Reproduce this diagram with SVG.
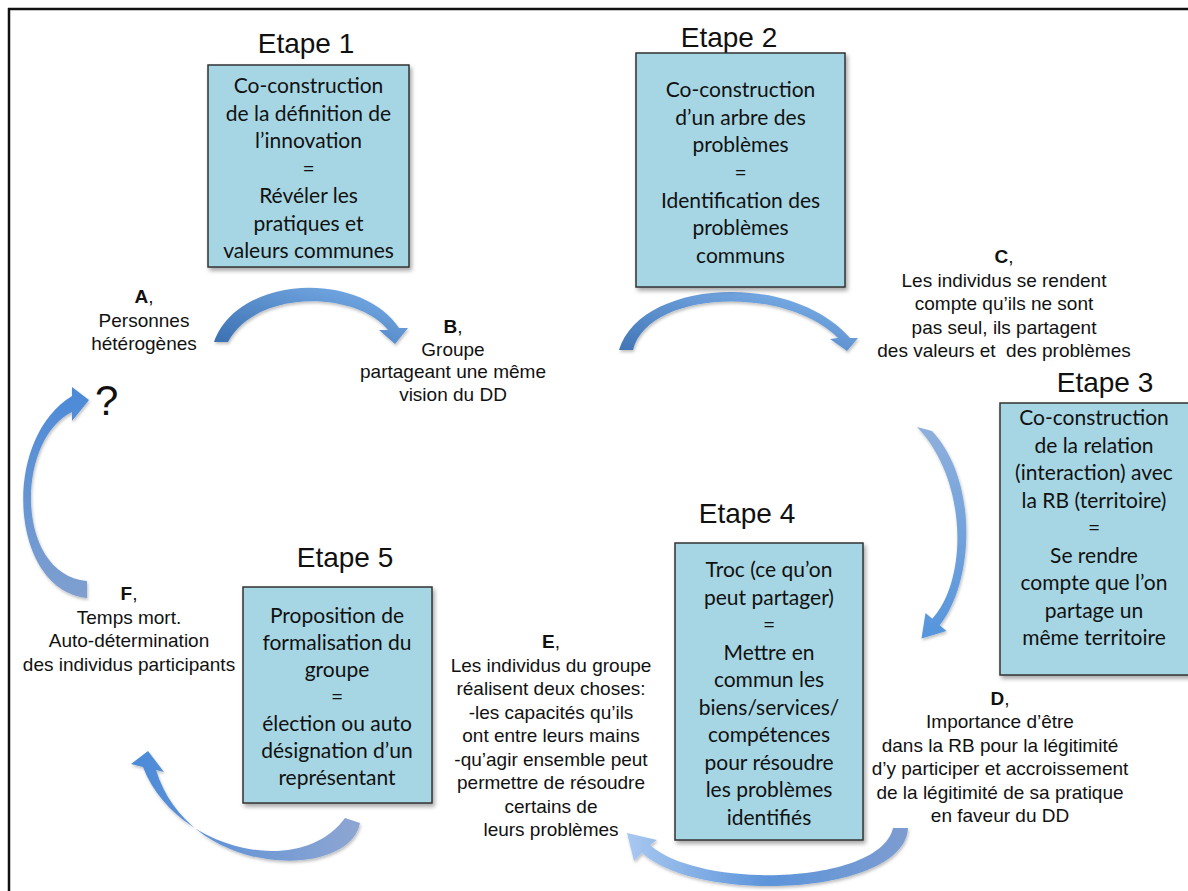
<svg xmlns="http://www.w3.org/2000/svg" width="1188" height="891" viewBox="0 0 1188 891">
<style>
.box{fill:#a6d6e3;stroke:#333;stroke-width:1.5;filter:url(#sh)}
.bt{font-family:Lato,"Open Sans",sans-serif;font-size:21px;fill:#111;text-anchor:middle}
.tt{font-family:"Liberation Sans",Arial,sans-serif;font-size:28px;fill:#111;text-anchor:middle}
.lb{font-family:"Liberation Sans",Arial,sans-serif;font-size:19px;fill:#111;text-anchor:middle}
.b{font-weight:bold}
.arr{filter:url(#ash)}
</style>
<defs>
<filter id="sh" x="-10%" y="-10%" width="125%" height="125%"><feDropShadow dx="2" dy="3" stdDeviation="2" flood-color="#000" flood-opacity="0.35"/></filter>
<filter id="ash" x="-10%" y="-10%" width="125%" height="125%"><feDropShadow dx="1" dy="2" stdDeviation="1.5" flood-color="#000" flood-opacity="0.25"/></filter>
<linearGradient id="g1" x1="0" y1="1" x2="1" y2="0"><stop offset="0" stop-color="#3b6fb0"/><stop offset="1" stop-color="#7ab0ea"/></linearGradient>
<linearGradient id="g2" x1="0" y1="1" x2="1" y2="0"><stop offset="0" stop-color="#4275b6"/><stop offset="1" stop-color="#80b4ec"/></linearGradient>
<linearGradient id="g3" x1="0" y1="0" x2="0" y2="1"><stop offset="0" stop-color="#8fb0dc"/><stop offset="1" stop-color="#5595dc"/></linearGradient>
<linearGradient id="g4" x1="1" y1="0" x2="0" y2="0"><stop offset="0" stop-color="#7d9cd0"/><stop offset="0.5" stop-color="#5d95da"/><stop offset="1" stop-color="#a8c8f0"/></linearGradient>
<linearGradient id="g5" x1="1" y1="0" x2="0" y2="0"><stop offset="0" stop-color="#8ea6d2"/><stop offset="1" stop-color="#4b8ad8"/></linearGradient>
<linearGradient id="g6" x1="0" y1="0" x2="0" y2="1"><stop offset="0" stop-color="#4b8ad8"/><stop offset="1" stop-color="#7f9fcf"/></linearGradient>
</defs>
<rect width="1188" height="891" fill="#fff"/>
<g id="frame">
<line x1="8" y1="9" x2="1188" y2="9" stroke="#111" stroke-width="2.5"/>
<line x1="9" y1="8" x2="9" y2="891" stroke="#111" stroke-width="2.5"/>
</g>
<g id="connectors">
<path class="arr" fill="url(#g1)" d="M214,342 C238,275 360,270 399,328 L408,328 L395,344 L379,330 L388,330 C355,290 255,290 228,342 Z"/>
<path class="arr" fill="url(#g2)" d="M619,350 C640,280 790,270 850,338 L858,338 L847,351 L830,339 L838,338 C785,285 648,290 633,350 Z"/>
<path class="arr" fill="url(#g3)" d="M917,427 L932,431 C978,480 975,580 939.75,625.3 L946.5,631 L921.5,638.5 L925.5,613 L932.25,618.7 C968,580 968,480 917,427 Z"/>
<path class="arr" fill="url(#g4)" d="M893,828 L908,828 C905,895 700,905 642,853 L634,861 L627,833 L657,840 L650,845 C700,890 880,885 893,828 Z"/>
<path class="arr" fill="url(#g5)" d="M345,818 L360,823 C350,880 190,880 156,770 L164,772 L148,751 L131,764 L143,767 C175,850 300,880 345,818 Z"/>
<path class="arr" fill="url(#g6)" d="M87,581 L87,598 C10,590 0,440 72,396 L72,387 L89,400 L72,421 L72,412 C15,440 15,575 87,581 Z"/>
</g>
<g id="etape1">
<text class="tt" x="306" y="53">Etape 1</text>
<rect class="box" x="208" y="65" width="201" height="202"/>
<text class="bt" x="308.5" y="93">Co-construction</text>
<text class="bt" x="308.5" y="120.5">de la définition de</text>
<text class="bt" x="308.5" y="148">l’innovation</text>
<text class="bt" x="308.5" y="175.5">=</text>
<text class="bt" x="308.5" y="203">Révéler les</text>
<text class="bt" x="308.5" y="230.5">pratiques et</text>
<text class="bt" x="308.5" y="258">valeurs communes</text>
</g>
<g id="etape2">
<text class="tt" x="729" y="47">Etape 2</text>
<rect class="box" x="636" y="53" width="209" height="234"/>
<text class="bt" x="740.5" y="97">Co-construction</text>
<text class="bt" x="740.5" y="124.7">d’un arbre des</text>
<text class="bt" x="740.5" y="152.3">problèmes</text>
<text class="bt" x="740.5" y="180">=</text>
<text class="bt" x="740.5" y="207.7">Identification des</text>
<text class="bt" x="740.5" y="235.3">problèmes</text>
<text class="bt" x="740.5" y="263">communs</text>
</g>
<g id="etape3">
<text class="tt" x="1105" y="392">Etape 3</text>
<rect class="box" x="1000" y="403" width="200" height="272"/>
<text class="bt" x="1094" y="425">Co-construction</text>
<text class="bt" x="1094" y="452.5">de la relation</text>
<text class="bt" x="1094" y="480">(interaction) avec</text>
<text class="bt" x="1094" y="507.5">la RB (territoire)</text>
<text class="bt" x="1094" y="535">=</text>
<text class="bt" x="1094" y="562.5">Se rendre</text>
<text class="bt" x="1094" y="590">compte que l’on</text>
<text class="bt" x="1094" y="617.5">partage un</text>
<text class="bt" x="1094" y="645">même territoire</text>
</g>
<g id="etape4">
<text class="tt" x="747" y="523">Etape 4</text>
<rect class="box" x="675" y="543" width="188" height="297"/>
<text class="bt" x="769" y="577">Troc (ce qu’on</text>
<text class="bt" x="769" y="604.5">peut partager)</text>
<text class="bt" x="769" y="632">=</text>
<text class="bt" x="769" y="659.5">Mettre en</text>
<text class="bt" x="769" y="687">commun les</text>
<text class="bt" x="769" y="714.5">biens/services/</text>
<text class="bt" x="769" y="742">compétences</text>
<text class="bt" x="769" y="769.5">pour résoudre</text>
<text class="bt" x="769" y="797">les problèmes</text>
<text class="bt" x="769" y="824.5">identifiés</text>
</g>
<g id="etape5">
<text class="tt" x="345" y="567">Etape 5</text>
<rect class="box" x="243" y="587" width="189" height="216"/>
<text class="bt" x="337" y="623">Proposition de</text>
<text class="bt" x="337" y="650">formalisation du</text>
<text class="bt" x="337" y="677">groupe</text>
<text class="bt" x="337" y="704">=</text>
<text class="bt" x="337" y="731">élection ou auto</text>
<text class="bt" x="337" y="758">désignation d’un</text>
<text class="bt" x="337" y="785">représentant</text>
</g>
<g id="labelA">
<text class="lb" x="144" y="303"><tspan class="b">A</tspan>,</text>
<text class="lb" x="144" y="327">Personnes</text>
<text class="lb" x="144" y="350">hétérogènes</text>
</g>
<g id="labelQ">
<text x="95" y="415" font-family="Liberation Sans, Arial, sans-serif" font-size="42" fill="#111">?</text>
</g>
<g id="labelB">
<text class="lb" x="453" y="333"><tspan class="b">B</tspan>,</text>
<text class="lb" x="453" y="355.5">Groupe</text>
<text class="lb" x="453" y="378">partageant une même</text>
<text class="lb" x="453" y="400.5">vision du DD</text>
</g>
<g id="labelC">
<text class="lb" x="1004" y="263"><tspan class="b">C</tspan>,</text>
<text class="lb" x="1004" y="287">Les individus se rendent</text>
<text class="lb" x="1004" y="310">compte qu’ils ne sont</text>
<text class="lb" x="1004" y="334">pas seul, ils partagent</text>
<text class="lb" x="1004" y="357" xml:space="preserve">des valeurs et  des problèmes</text>
</g>
<g id="labelD">
<text class="lb" x="1000" y="705"><tspan class="b">D</tspan>,</text>
<text class="lb" x="1000" y="728">Importance d’être</text>
<text class="lb" x="1000" y="752">dans la RB pour la légitimité</text>
<text class="lb" x="1000" y="775">d’y participer et accroissement</text>
<text class="lb" x="1000" y="799">de la légitimité de sa pratique</text>
<text class="lb" x="1000" y="822">en faveur du DD</text>
</g>
<g id="labelE">
<text class="lb" x="551" y="648"><tspan class="b">E</tspan>,</text>
<text class="lb" x="551" y="671.5">Les individus du groupe</text>
<text class="lb" x="551" y="695">réalisent deux choses:</text>
<text class="lb" x="551" y="718.5">-les capacités qu’ils</text>
<text class="lb" x="551" y="742">ont entre leurs mains</text>
<text class="lb" x="551" y="765.5">-qu’agir ensemble peut</text>
<text class="lb" x="551" y="789">permettre de résoudre</text>
<text class="lb" x="551" y="812.5">certains de</text>
<text class="lb" x="551" y="836">leurs problèmes</text>
</g>
<g id="labelF">
<text class="lb" x="129" y="600"><tspan class="b">F</tspan>,</text>
<text class="lb" x="129" y="624">Temps mort.</text>
<text class="lb" x="129" y="647">Auto-détermination</text>
<text class="lb" x="129" y="671">des individus participants</text>
</g>
</svg>
